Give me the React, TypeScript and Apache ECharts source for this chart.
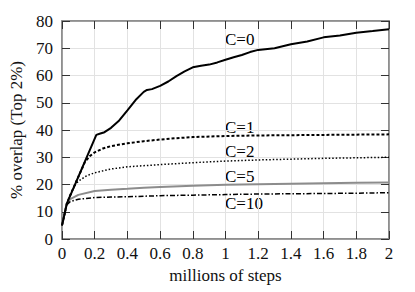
import React, { useEffect, useRef } from "react";
import * as echarts from "echarts";

const xTicks = [0, 0.2, 0.4, 0.6, 0.8, 1, 1.2, 1.4, 1.6, 1.8, 2];

const c0Steps = [0, 0.03, 0.21, 0.23, 0.26, 0.3, 0.35, 0.4, 0.45, 0.5, 0.52, 0.55, 0.6, 0.65, 0.7, 0.75, 0.8, 0.85, 0.9, 0.95, 1.0, 1.05, 1.1, 1.15, 1.2, 1.3, 1.4, 1.5, 1.6, 1.7, 1.8, 1.9, 2.0];
const c0Overlap = [5, 13.1, 38.2, 38.6, 39.2, 40.8, 43.5, 47.2, 51, 54, 54.7, 55, 56.2, 57.8, 59.8, 61.5, 63, 63.6, 64, 64.8, 65.8, 66.7, 67.5, 68.6, 69.4, 70, 71.5, 72.5, 74, 74.7, 75.7, 76.3, 77];

const c1Steps = [0, 0.03, 0.05, 0.1, 0.14, 0.17, 0.2, 0.25, 0.3, 0.4, 0.5, 0.6, 0.7, 0.8, 1.0, 1.2, 1.4, 1.6, 1.8, 2.0];
const c1Overlap = [5, 13.1, 16, 22.8, 28.2, 30.4, 31.8, 33.2, 34.1, 35.1, 35.9, 36.5, 37, 37.4, 37.8, 38, 38.1, 38.2, 38.3, 38.4];

const c2Steps = [0, 0.03, 0.05, 0.08, 0.1, 0.15, 0.2, 0.3, 0.4, 0.5, 0.6, 0.8, 1.0, 1.2, 1.4, 1.6, 1.8, 2.0];
const c2Overlap = [5, 13.1, 16, 19.8, 21.2, 23.2, 24.3, 25.7, 26.5, 26.9, 27.3, 28, 28.6, 29, 29.3, 29.6, 29.8, 30];

const c5Steps = [0, 0.03, 0.05, 0.1, 0.2, 0.3, 0.4, 0.5, 0.6, 0.8, 1.0, 1.2, 1.4, 1.6, 1.8, 2.0];
const c5Overlap = [5, 13.1, 14.6, 16.2, 17.6, 18.1, 18.4, 18.8, 19.1, 19.5, 19.9, 20.1, 20.3, 20.5, 20.6, 20.7];

const c10Steps = [0, 0.03, 0.05, 0.1, 0.2, 0.3, 0.4, 0.5, 0.6, 0.8, 1.0, 1.2, 1.4, 1.6, 1.8, 2.0];
const c10Overlap = [5, 12.6, 13.7, 14.6, 15.2, 15.4, 15.5, 15.7, 15.9, 16.1, 16.3, 16.5, 16.6, 16.7, 16.8, 17];

const seriesNames = ["C=0", "C=1", "C=2", "C=5", "C=10"];

const pair = (xs: number[], ys: number[]) => xs.map((x, i) => [x, ys[i]]);

const FONT = "Liberation Serif";

const mkLine = () => ({ show: true, onZero: false, lineStyle: { color: "#888888", width: 1.5 } });
const mkTick = () => ({ show: true, inside: true, length: 8, lineStyle: { color: "#333333", width: 1 } });
const mkSplit = (show: boolean) => ({ show, lineStyle: { color: "#e2e2e2", width: 1 } });

export default function App() {
  const ref = useRef<HTMLDivElement>(null);
  useEffect(() => {
    if (!ref.current) return;
    const chart = echarts.init(ref.current, undefined, { renderer: "svg" });
    chart.setOption({
      animation: false,
      backgroundColor: "#ffffff",
      textStyle: { fontFamily: FONT, fontSize: 17, color: "#111111" },
      grid: { left: 62, right: 26, top: 21, bottom: 53, show: true, borderColor: "#888888", borderWidth: 1.5 },
      xAxis: [
        {
          type: "value", min: 0, max: 2, interval: 0.2, position: "bottom",
          axisLine: mkLine(), axisTick: mkTick(), splitLine: mkSplit(true),
          axisLabel: {
            fontFamily: FONT, fontSize: 17, color: "#111111", margin: 6,
            formatter: (v: number) => String(xTicks.find((t) => Math.abs(t - v) < 1e-6) ?? v),
          },
          name: "millions of steps", nameLocation: "middle", nameGap: 21,
          nameTextStyle: { fontFamily: FONT, fontSize: 17, color: "#111111", verticalAlign: "top" },
        },
        {
          type: "value", min: 0, max: 2, interval: 0.2, position: "top",
          axisLine: mkLine(), axisTick: mkTick(), splitLine: mkSplit(false), axisLabel: { show: false },
        },
      ],
      yAxis: [
        {
          type: "value", min: 0, max: 80, interval: 10, position: "left",
          axisLine: mkLine(), axisTick: mkTick(), splitLine: mkSplit(true),
          axisLabel: { fontFamily: FONT, fontSize: 17, color: "#111111", margin: 9 },
          name: "% overlap (Top 2%)", nameLocation: "middle", nameGap: 32,
          nameTextStyle: { fontFamily: FONT, fontSize: 17, color: "#111111" },
        },
        {
          type: "value", min: 0, max: 80, interval: 10, position: "right",
          axisLine: mkLine(), axisTick: mkTick(), splitLine: mkSplit(false), axisLabel: { show: false },
        },
      ],
      series: [
        { name: seriesNames[0], type: "line", showSymbol: false, data: pair(c0Steps, c0Overlap), lineStyle: { color: "#000000", width: 2 }, z: 5 },
        { name: seriesNames[1], type: "line", showSymbol: false, data: pair(c1Steps, c1Overlap), lineStyle: { color: "#000000", width: 2, type: [3, 2] } },
        { name: seriesNames[2], type: "line", showSymbol: false, data: pair(c2Steps, c2Overlap), lineStyle: { color: "#000000", width: 1.5, type: [1.5, 2] } },
        { name: seriesNames[3], type: "line", showSymbol: false, data: pair(c5Steps, c5Overlap), lineStyle: { color: "#8c8c8c", width: 2 } },
        { name: seriesNames[4], type: "line", showSymbol: false, data: pair(c10Steps, c10Overlap), lineStyle: { color: "#000000", width: 1.5, type: [5, 2, 1.5, 2] } },
      ],
      graphic: seriesNames.map((n, i) => ({
        type: "text",
        left: 225,
        top: [31, 119, 143, 168, 195][i],
        style: { text: n, fontFamily: FONT, fontSize: 17, fill: "#000000" },
      })),
    });
    return () => chart.dispose();
  }, []);
  return <div ref={ref} style={{ position: "fixed", left: 0, top: 0, width: 415, height: 292 }} />;
}
